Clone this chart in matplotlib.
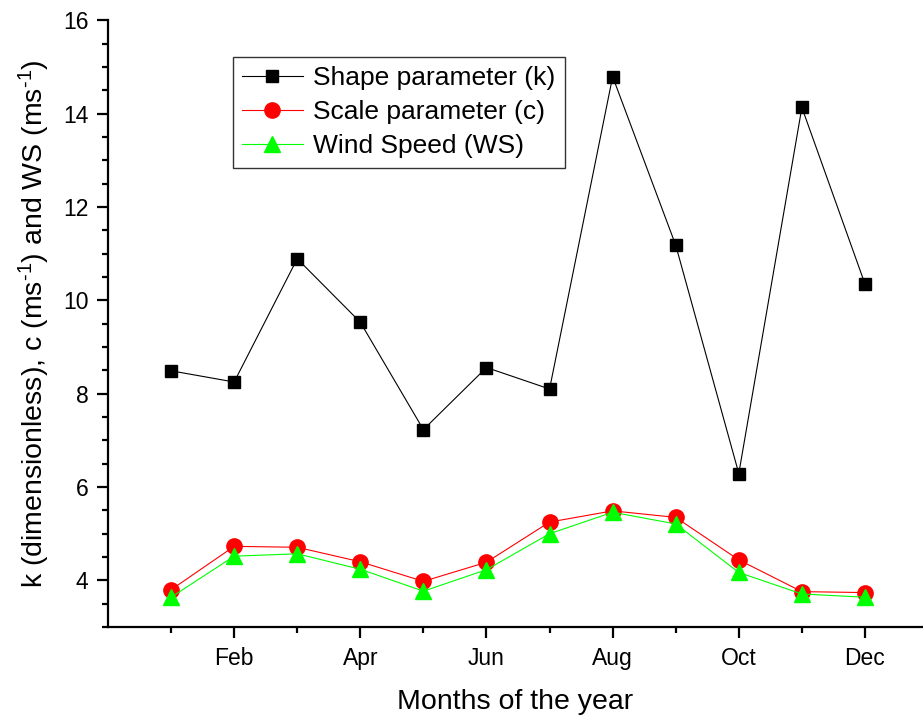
import matplotlib
matplotlib.use("Agg")
import matplotlib.pyplot as plt
from matplotlib.ticker import MultipleLocator, FixedLocator

plt.rcParams['font.family'] = ['Liberation Sans', 'DejaVu Sans']
plt.rcParams['mathtext.fontset'] = 'custom'
plt.rcParams['mathtext.rm'] = 'Liberation Sans'
plt.rcParams['mathtext.it'] = 'Liberation Sans:italic'
plt.rcParams['mathtext.bf'] = 'Liberation Sans:bold'

months = list(range(1, 13))
tick_positions = [2, 4, 6, 8, 10, 12]
tick_labels = ["Feb", "Apr", "Jun", "Aug", "Oct", "Dec"]
shape_k = [8.49, 8.25, 10.89, 9.53, 7.23, 8.56, 8.10, 14.79, 11.18, 6.29, 14.13, 10.35]
scale_c = [3.80, 4.73, 4.71, 4.40, 3.98, 4.39, 5.25, 5.49, 5.35, 4.44, 3.76, 3.74]
wind_ws = [3.64, 4.52, 4.57, 4.24, 3.77, 4.23, 5.00, 5.46, 5.21, 4.17, 3.71, 3.64]

fig = plt.figure(figsize=(9.23, 7.2), dpi=100)
ax = fig.add_axes([0.117, 0.129, 0.883, 0.843])

ax.plot(months, shape_k, color='black', lw=0.8, marker='s', ms=9, mfc='black', mec='black',
        label='Shape parameter (k)')
ax.plot(months, scale_c, color='red', lw=0.8, marker='o', ms=11, mfc='red', mec='red',
        label='Scale parameter (c)')
ax.plot(months, wind_ws, color='#00ff00', lw=0.8, marker='^', ms=11, mfc='#00ff00', mec='#00ff00',
        label='Wind Speed (WS)')

ax.set_xlim(0, 12.92)
ax.set_ylim(3, 16)
ax.xaxis.set_major_locator(FixedLocator(tick_positions))
ax.set_xticklabels(tick_labels)
ax.xaxis.set_minor_locator(FixedLocator([1, 3, 5, 7, 9, 11]))
ax.set_yticks([4, 6, 8, 10, 12, 14, 16])
ax.yaxis.set_minor_locator(MultipleLocator(0.5))

for s in ['top', 'right']:
    ax.spines[s].set_visible(False)
for s in ['left', 'bottom']:
    ax.spines[s].set_linewidth(1.6)

ax.tick_params(which='major', direction='out', length=8, width=1.6, labelsize=16.5, pad=6)
ax.tick_params(which='minor', direction='out', length=4, width=1.6)

ax.set_xlabel('Months of the year', fontsize=20.5, labelpad=14)
ax.set_ylabel(r'k (dimensionless), c (ms$^{\text{-}1}$) and WS (ms$^{\text{-}1}$)', fontsize=20.5, labelpad=8)

leg = ax.legend(loc='upper left', bbox_to_anchor=(0.153, 0.939), fontsize=19, frameon=True,
                fancybox=False, edgecolor='black', handlelength=2.3, borderpad=0.35,
                labelspacing=0.38, handletextpad=0.4, borderaxespad=0)
leg.get_frame().set_linewidth(1.0)

fig.savefig('out.png', dpi=100)
